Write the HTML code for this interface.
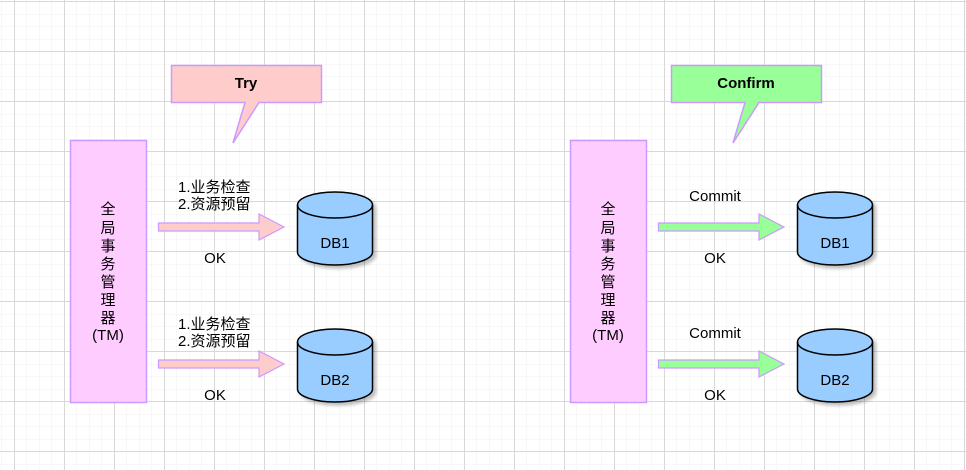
<!DOCTYPE html>
<html><head><meta charset="utf-8"><style>
html,body{margin:0;padding:0;background:#fff}
svg{display:block}
text{font-family:"Liberation Sans","Noto Sans CJK SC",sans-serif;font-size:15px;fill:#000}
</style></head><body>
<svg width="966" height="470" viewBox="0 0 966 470" xmlns="http://www.w3.org/2000/svg">
<defs>
<pattern id="minor" x="1.5" y="1.5" width="12.5" height="12.5" patternUnits="userSpaceOnUse">
<path d="M0 0H12.5M0 0V12.5" stroke="#f0f0f0" stroke-width="1" fill="none"/>
</pattern>
<pattern id="major" x="14" y="1" width="50" height="50" patternUnits="userSpaceOnUse">
<path d="M0 0.5H50M0.5 0V50" stroke="#d8d8d8" stroke-width="1" fill="none"/>
</pattern>
<filter id="sh" x="-20%" y="-20%" width="150%" height="150%"><feDropShadow dx="3" dy="3" stdDeviation="1.5" flood-color="#000" flood-opacity="0.25"/></filter>
<g id="db">
<path d="M0 13 A37.5 13 0 0 1 75 13 V60 A37.5 13 0 0 1 0 60 Z" fill="#99CCFF" stroke="#000" stroke-width="1.5" filter="url(#sh)"/>
<path d="M0 13 A37.5 13 0 0 0 75 13" fill="none" stroke="#000" stroke-width="1.5"/>
</g>
</defs>
<rect width="966" height="470" fill="url(#minor)"/>
<rect width="966" height="470" fill="url(#major)"/>

<g>
<rect x="70.5" y="140.5" width="76" height="262" fill="#FFCCFF" stroke="#CC99FF" stroke-width="1.5"/>
<g text-anchor="middle">
<text x="108" y="214">全</text><text x="108" y="233">局</text><text x="108" y="251">事</text><text x="108" y="269">务</text><text x="108" y="287">管</text><text x="108" y="305">理</text><text x="108" y="323">器</text><text x="108" y="340">(TM)</text>
</g>
<path d="M171.5 65.5 H321.5 V102.5 H259 L233 143 L245 102.5 H171.5 Z" fill="#FFCCCC" stroke="#CC99FF" stroke-width="1.5"/>
<text x="246" y="88" text-anchor="middle" font-weight="bold" font-size="14">Try</text>

<path d="M158.5 223 H259 V214 L284 227 L259 240 V231 H158.5 Z" fill="#FFCCCC" stroke="#CC99FF" stroke-width="1.2"/>
<text x="178" y="192">1.业务检查</text><text x="178" y="209">2.资源预留</text>
<text x="215" y="263" text-anchor="middle">OK</text>
<use href="#db" x="297.5" y="192"/>
<text x="335" y="248" text-anchor="middle">DB1</text>

<path d="M158.5 360 H259 V351 L284 364 L259 377 V368 H158.5 Z" fill="#FFCCCC" stroke="#CC99FF" stroke-width="1.2"/>
<text x="178" y="329">1.业务检查</text><text x="178" y="346">2.资源预留</text>
<text x="215" y="400" text-anchor="middle">OK</text>
<use href="#db" x="297.5" y="329"/>
<text x="335" y="385" text-anchor="middle">DB2</text>
</g>

<g transform="translate(500,0)">
<rect x="70.5" y="140.5" width="76" height="262" fill="#FFCCFF" stroke="#CC99FF" stroke-width="1.5"/>
<g text-anchor="middle">
<text x="108" y="214">全</text><text x="108" y="233">局</text><text x="108" y="251">事</text><text x="108" y="269">务</text><text x="108" y="287">管</text><text x="108" y="305">理</text><text x="108" y="323">器</text><text x="108" y="340">(TM)</text>
</g>
<path d="M171.5 65.5 H321.5 V102.5 H259 L233 143 L245 102.5 H171.5 Z" fill="#99FF99" stroke="#CC99FF" stroke-width="1.5"/>
<text x="246" y="88" text-anchor="middle" font-weight="bold" font-size="14">Confirm</text>

<path d="M158.5 223 H259 V214 L284 227 L259 240 V231 H158.5 Z" fill="#99FF99" stroke="#CC99FF" stroke-width="1.2"/>
<text x="215" y="201" text-anchor="middle">Commit</text>
<text x="215" y="263" text-anchor="middle">OK</text>
<use href="#db" x="297.5" y="192"/>
<text x="335" y="248" text-anchor="middle">DB1</text>

<path d="M158.5 360 H259 V351 L284 364 L259 377 V368 H158.5 Z" fill="#99FF99" stroke="#CC99FF" stroke-width="1.2"/>
<text x="215" y="338" text-anchor="middle">Commit</text>
<text x="215" y="400" text-anchor="middle">OK</text>
<use href="#db" x="297.5" y="329"/>
<text x="335" y="385" text-anchor="middle">DB2</text>
</g>
</svg>
</body></html>
